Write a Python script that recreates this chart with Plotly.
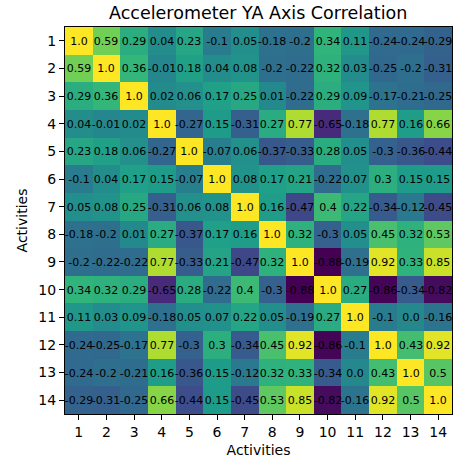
import plotly.graph_objects as go

labels = [str(i) for i in range(1, 15)]
corr = [
    [1.0, 0.59, 0.29, 0.04, 0.23, -0.1, 0.05, -0.18, -0.2, 0.34, 0.11, -0.24, -0.24, -0.29],
    [0.59, 1.0, 0.36, -0.01, 0.18, 0.04, 0.08, -0.2, -0.22, 0.32, 0.03, -0.25, -0.2, -0.31],
    [0.29, 0.36, 1.0, 0.02, 0.06, 0.17, 0.25, 0.01, -0.22, 0.29, 0.09, -0.17, -0.21, -0.25],
    [0.04, -0.01, 0.02, 1.0, -0.27, 0.15, -0.31, 0.27, 0.77, -0.65, -0.18, 0.77, 0.16, 0.66],
    [0.23, 0.18, 0.06, -0.27, 1.0, -0.07, 0.06, -0.37, -0.33, 0.28, 0.05, -0.3, -0.36, -0.44],
    [-0.1, 0.04, 0.17, 0.15, -0.07, 1.0, 0.08, 0.17, 0.21, -0.22, 0.07, 0.3, 0.15, 0.15],
    [0.05, 0.08, 0.25, -0.31, 0.06, 0.08, 1.0, 0.16, -0.47, 0.4, 0.22, -0.34, -0.12, -0.45],
    [-0.18, -0.2, 0.01, 0.27, -0.37, 0.17, 0.16, 1.0, 0.32, -0.3, 0.05, 0.45, 0.32, 0.53],
    [-0.2, -0.22, -0.22, 0.77, -0.33, 0.21, -0.47, 0.32, 1.0, -0.88, -0.19, 0.92, 0.33, 0.85],
    [0.34, 0.32, 0.29, -0.65, 0.28, -0.22, 0.4, -0.3, -0.88, 1.0, 0.27, -0.86, -0.34, -0.82],
    [0.11, 0.03, 0.09, -0.18, 0.05, 0.07, 0.22, 0.05, -0.19, 0.27, 1.0, -0.1, 0.0, -0.16],
    [-0.24, -0.25, -0.17, 0.77, -0.3, 0.3, -0.34, 0.45, 0.92, -0.86, -0.1, 1.0, 0.43, 0.92],
    [-0.24, -0.2, -0.21, 0.16, -0.36, 0.15, -0.12, 0.32, 0.33, -0.34, 0.0, 0.43, 1.0, 0.5],
    [-0.29, -0.31, -0.25, 0.66, -0.44, 0.15, -0.45, 0.53, 0.85, -0.82, -0.16, 0.92, 0.5, 1.0],
]

text = [[str(v) for v in row] for row in corr]
xs = list(range(1, 15))
ys = list(range(1, 15))

fig = go.Figure(go.Heatmap(
    z=corr, x=xs, y=ys, text=text, texttemplate="%{text}",
    textfont=dict(family="DejaVu Sans", size=11, color="black"),
    colorscale="Viridis", zmin=-0.88, zmax=1.0, showscale=False,
))

fig.update_layout(
    width=453, height=459,
    margin=dict(l=65, r=1, t=27, b=45),
    paper_bgcolor="white", plot_bgcolor="white",
    font=dict(family="DejaVu Sans", size=14, color="black"),
    title=dict(text="Accelerometer YA Axis Correlation", x=0.57, xanchor="center",
               y=0.972, yanchor="middle", font=dict(family="DejaVu Sans", size=17.5, color="black")),
)
fig.update_xaxes(
    tickmode="array", tickvals=xs, ticktext=labels, ticks="outside", ticklen=5,
    tickcolor="black", showline=True, linecolor="black", linewidth=1, mirror=True,
    showgrid=False, zeroline=False, range=[0.5, 14.5],
    title=dict(text="Activities", font=dict(family="DejaVu Sans", size=14, color="black"), standoff=6),
    tickfont=dict(family="DejaVu Sans", size=14, color="black"),
)
fig.update_yaxes(
    tickmode="array", tickvals=ys, ticktext=labels, ticks="outside", ticklen=5,
    tickcolor="black", showline=True, linecolor="black", linewidth=1, mirror=True,
    showgrid=False, zeroline=False, range=[14.5, 0.5],
    title=dict(text="Activities", font=dict(family="DejaVu Sans", size=14, color="black"), standoff=7),
    tickfont=dict(family="DejaVu Sans", size=14, color="black"),
)

fig.write_html("out.html")
